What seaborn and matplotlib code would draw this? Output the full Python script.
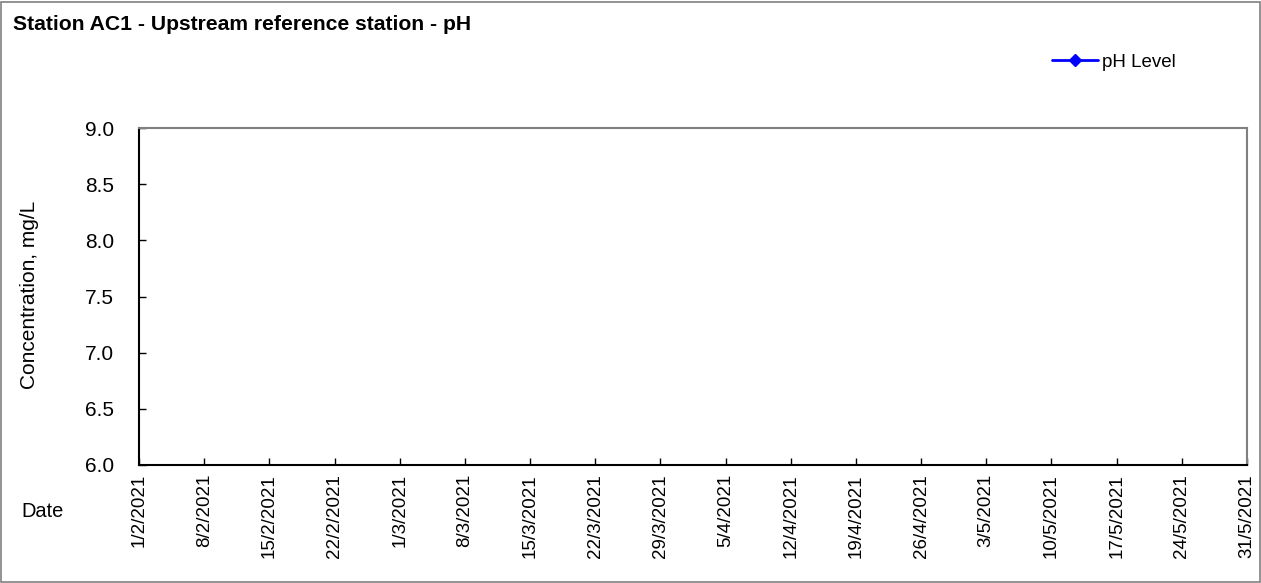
import numpy as np
import pandas as pd
import matplotlib
matplotlib.use("Agg")
import matplotlib.pyplot as plt
from matplotlib.lines import Line2D
from matplotlib.patches import Rectangle
import seaborn as sns

# no measurements were recorded for this period -> empty series
sample_dates = []
ph_values = []

tick_dates = ["1/2/2021", "8/2/2021", "15/2/2021", "22/2/2021", "1/3/2021",
              "8/3/2021", "15/3/2021", "22/3/2021", "29/3/2021", "5/4/2021",
              "12/4/2021", "19/4/2021", "26/4/2021", "3/5/2021", "10/5/2021",
              "17/5/2021", "24/5/2021", "31/5/2021"]
y_ticks = [6.0, 6.5, 7.0, 7.5, 8.0, 8.5, 9.0]

sns.set_style("white")
plt.rcParams["font.family"] = ["Liberation Sans", "DejaVu Sans"]
plt.rcParams["text.color"] = "black"
plt.rcParams["xtick.color"] = "black"
plt.rcParams["ytick.color"] = "black"

W, H = 1261, 583
fig = plt.figure(figsize=(W / 100, H / 100), dpi=100)
ax = fig.add_axes([139 / W, 1 - 465 / H, (1247 - 139) / W, (465 - 128) / H])

df = pd.DataFrame({"date": pd.to_datetime(sample_dates, dayfirst=True),
                   "ph": pd.Series(ph_values, dtype=float)})
sns.lineplot(data=df, x="date", y="ph", ax=ax, color="blue", marker="D",
             legend=False)

ticks = pd.to_datetime(tick_dates, dayfirst=True)
ax.set_xlim(ticks[0], ticks[-1])
ax.set_xticks(ticks)
ax.set_xticklabels(tick_dates, rotation=90, fontsize=13.5)
ax.set_ylim(6.0, 9.0)
ax.set_yticks(y_ticks)
ax.set_yticklabels([f"{v:.1f}" for v in y_ticks], fontsize=15)
ax.tick_params(axis="both", direction="in", length=5, width=1,
               color="black", labelcolor="black", bottom=True, left=True)
ax.tick_params(axis="y", pad=18)
ax.tick_params(axis="x", pad=6.5)
ax.set_xlabel("")
ax.set_ylabel("")

for side in ["left", "bottom"]:
    ax.spines[side].set_color("black")
    ax.spines[side].set_linewidth(1.5)
for side in ["top", "right"]:
    ax.spines[side].set_color("#808080")
    ax.spines[side].set_linewidth(1.5)

fig.text(13 / W, 1 - 30 / H, "Station AC1 - Upstream reference station - pH",
         fontsize=15.2, fontweight="bold", va="baseline", ha="left",
         color="black")
fig.text(35 / W, 1 - 295 / H, "Concentration, mg/L", fontsize=15,
         rotation=90, rotation_mode="anchor", va="baseline", ha="center",
         color="black")
fig.text(21 / W, 1 - 517 / H, "Date", fontsize=14.4, va="baseline",
         ha="left", color="black")

handle = Line2D([], [], color="blue", marker="D", markersize=6, lw=2)
leg = fig.legend([handle], ["pH Level"], loc="center left",
                 bbox_to_anchor=(1052 / W, 1 - 62 / H), frameon=False,
                 fontsize=13.5, borderpad=0, borderaxespad=0,
                 handlelength=2.45, handletextpad=0.2)
for t in leg.get_texts():
    t.set_color("black")

fig.patches.append(Rectangle((1.5 / W, 1.5 / H), 1 - 3 / W, 1 - 3 / H,
                             transform=fig.transFigure, fill=False,
                             edgecolor="#808080", lw=1.2))

fig.savefig("out.png", dpi=100)
